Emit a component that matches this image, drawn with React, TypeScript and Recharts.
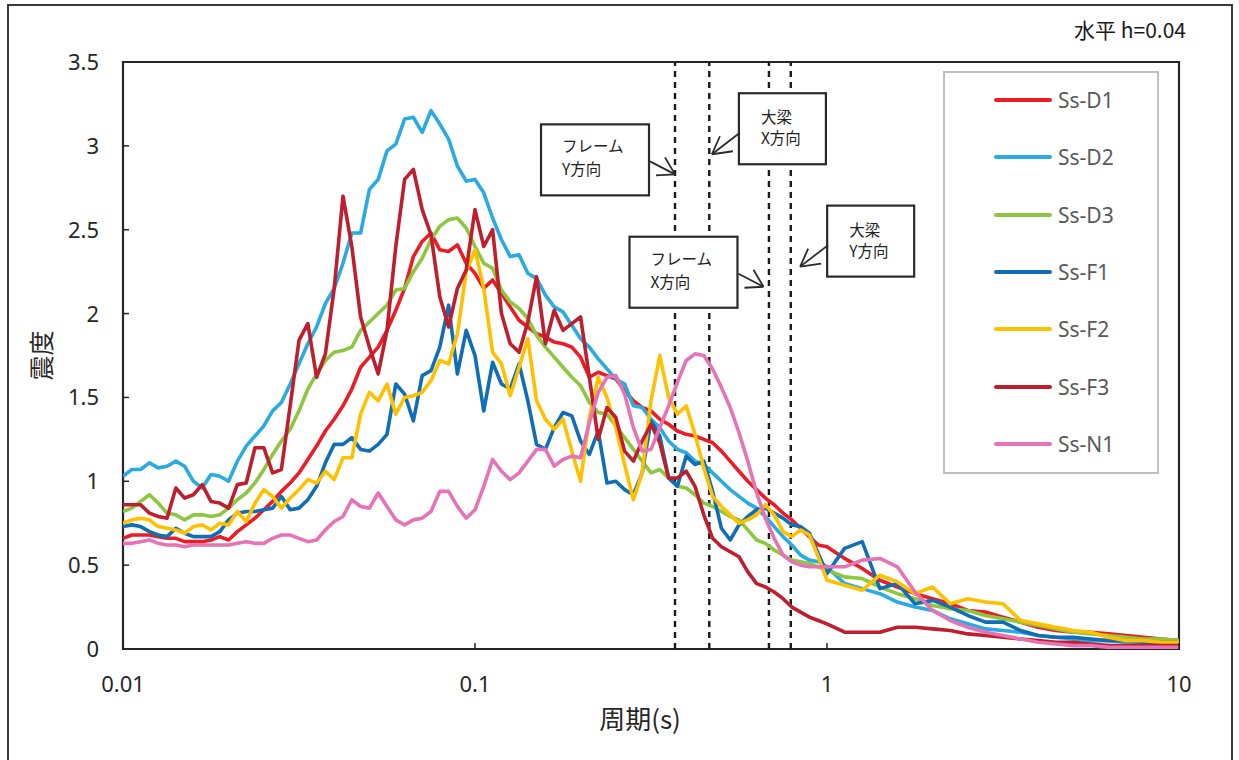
import React from 'react';
import {
  LineChart,
  Line,
  XAxis,
  YAxis,
  ReferenceLine,
  ReferenceArea,
  ReferenceDot,
  Legend,
  Label,
} from 'recharts';

// ---- data -------------------------------------------------------------
const periods = [
  0.01, 0.01059, 0.01122, 0.01189, 0.01259, 0.01334, 0.01413, 0.01496, 0.01585, 0.01679,
  0.01778, 0.01884, 0.01995, 0.02113, 0.02239, 0.02371, 0.02512, 0.02661, 0.02818, 0.02985,
  0.03162, 0.0335, 0.03548, 0.03758, 0.03981, 0.04217, 0.04467, 0.04732, 0.05012, 0.05309,
  0.05623, 0.05957, 0.0631, 0.06683, 0.07079, 0.07499, 0.07943, 0.08414, 0.08913, 0.09441,
  0.1, 0.1059, 0.1122, 0.1189, 0.1259, 0.1334, 0.1413, 0.1496, 0.1585, 0.1679,
  0.1778, 0.1884, 0.1995, 0.2113, 0.2239, 0.2371, 0.2512, 0.2661, 0.2818, 0.2985,
  0.3162, 0.335, 0.3548, 0.3758, 0.3981, 0.4217, 0.4467, 0.4732, 0.5012, 0.5309,
  0.5623, 0.5957, 0.631, 0.6683, 0.7079, 0.7499, 0.7943, 0.8414, 0.8913, 0.9441,
  1.0, 1.122, 1.259, 1.413, 1.585, 1.778, 1.995, 2.239, 2.512, 2.818,
  3.162, 3.548, 3.981, 4.467, 5.012, 5.623, 6.31, 7.079, 7.943, 8.913,
  10.0,
];

const ssD1 = [
  0.66, 0.68, 0.68, 0.68, 0.67, 0.66, 0.66, 0.64, 0.64, 0.64,
  0.65, 0.67, 0.65, 0.70, 0.74, 0.78, 0.83, 0.88, 0.94, 0.99,
  1.05, 1.13, 1.21, 1.30, 1.37, 1.45, 1.55, 1.68, 1.74, 1.80,
  1.90, 2.02, 2.15, 2.34, 2.43, 2.48, 2.38, 2.37, 2.41, 2.30,
  2.24, 2.15, 2.20, 2.12, 2.04, 1.96, 1.92, 1.88, 1.86, 1.83,
  1.82, 1.80, 1.74, 1.62, 1.65, 1.63, 1.61, 1.54, 1.48, 1.44,
  1.42, 1.37, 1.34, 1.30, 1.28, 1.27, 1.25, 1.23, 1.18, 1.12,
  1.06, 1.00, 0.95, 0.90, 0.86, 0.81, 0.77, 0.72, 0.67, 0.62,
  0.61, 0.54, 0.48, 0.41, 0.37, 0.33, 0.30, 0.27, 0.23, 0.22,
  0.19, 0.16, 0.13, 0.11, 0.10, 0.10, 0.09, 0.08, 0.07, 0.06,
  0.05,
];

const ssD2 = [
  1.03, 1.07, 1.07, 1.11, 1.08, 1.09, 1.12, 1.09, 1.00, 0.96,
  1.04, 1.03, 1.00, 1.12, 1.21, 1.27, 1.33, 1.42, 1.47, 1.58,
  1.70, 1.82, 1.92, 2.06, 2.15, 2.30, 2.48, 2.48, 2.74, 2.80,
  2.97, 3.01, 3.16, 3.17, 3.08, 3.21, 3.13, 3.04, 2.88, 2.79,
  2.80, 2.72, 2.57, 2.44, 2.34, 2.35, 2.24, 2.21, 2.11, 2.04,
  2.01, 1.93, 1.85, 1.80, 1.73, 1.67, 1.61, 1.58, 1.45, 1.44,
  1.37, 1.32, 1.24, 1.19, 1.17, 1.12, 1.10, 1.05, 1.00, 0.95,
  0.91, 0.87, 0.84, 0.79, 0.73, 0.67, 0.62, 0.56, 0.53, 0.52,
  0.49, 0.39, 0.36, 0.33, 0.28, 0.25, 0.23, 0.18, 0.15, 0.12,
  0.11, 0.10, 0.08, 0.07, 0.06, 0.05, 0.05, 0.04, 0.04, 0.03,
  0.03,
];

const ssD3 = [
  0.82, 0.84, 0.88, 0.92, 0.87, 0.81, 0.80, 0.77, 0.80, 0.80,
  0.79, 0.80, 0.84, 0.89, 0.93, 0.99, 1.07, 1.16, 1.24, 1.31,
  1.42, 1.55, 1.64, 1.72, 1.77, 1.78, 1.80, 1.90, 1.95, 2.00,
  2.05, 2.14, 2.15, 2.25, 2.33, 2.44, 2.52, 2.56, 2.57, 2.51,
  2.40, 2.30, 2.27, 2.14, 2.07, 2.03, 1.97, 1.87, 1.80, 1.74,
  1.68, 1.62, 1.57, 1.47, 1.41, 1.40, 1.33, 1.26, 1.19, 1.12,
  1.05, 1.07, 1.02, 0.97, 0.96, 0.92, 0.87, 0.85, 0.82, 0.79,
  0.77, 0.71, 0.65, 0.63, 0.59, 0.56, 0.53, 0.52, 0.51, 0.49,
  0.47, 0.43, 0.42, 0.37, 0.33, 0.30, 0.26, 0.24, 0.23, 0.20,
  0.18, 0.16, 0.14, 0.12, 0.10, 0.09, 0.08, 0.07, 0.06, 0.06,
  0.05,
];

const ssF1 = [
  0.73, 0.74, 0.73, 0.70, 0.68, 0.67, 0.72, 0.69, 0.67, 0.67,
  0.67, 0.70, 0.77, 0.81, 0.82, 0.82, 0.83, 0.84, 0.91, 0.83,
  0.84, 0.89, 0.97, 1.11, 1.22, 1.22, 1.26, 1.19, 1.18, 1.22,
  1.28, 1.58, 1.52, 1.36, 1.63, 1.66, 1.80, 2.05, 1.64, 1.90,
  1.75, 1.42, 1.71, 1.58, 1.55, 1.70, 1.48, 1.22, 1.19, 1.32,
  1.41, 1.39, 1.24, 1.16, 1.30, 0.99, 1.00, 0.95, 0.92, 1.05,
  1.36, 1.27, 1.02, 0.97, 1.15, 1.10, 1.12, 0.94, 0.72, 0.65,
  0.74, 0.79, 0.83, 0.84, 0.81, 0.78, 0.74, 0.73, 0.69, 0.57,
  0.45, 0.60, 0.64, 0.36, 0.39, 0.27, 0.29, 0.25, 0.20, 0.16,
  0.16, 0.11, 0.08, 0.07, 0.07, 0.06, 0.05, 0.05, 0.04, 0.04,
  0.04,
];

const ssF2 = [
  0.75, 0.77, 0.78, 0.77, 0.73, 0.72, 0.71, 0.69, 0.73, 0.74,
  0.71, 0.75, 0.74, 0.82, 0.76, 0.87, 0.95, 0.91, 0.84, 0.90,
  0.95, 1.01, 0.99, 1.06, 1.01, 1.14, 1.14, 1.40, 1.53, 1.48,
  1.58, 1.40, 1.50, 1.51, 1.53, 1.60, 1.72, 1.70, 1.88, 2.25,
  2.38, 2.15, 1.77, 1.70, 1.51, 1.68, 1.85, 1.48, 1.37, 1.31,
  1.37, 1.18, 1.00, 1.38, 1.62, 1.50, 1.32, 1.10, 0.89, 1.05,
  1.48, 1.75, 1.50, 1.40, 1.45, 1.28, 1.08, 0.91, 0.85, 0.80,
  0.75, 0.77, 0.80, 0.86, 0.80, 0.70, 0.67, 0.71, 0.68, 0.55,
  0.41, 0.38, 0.35, 0.44, 0.40, 0.33, 0.37, 0.27, 0.30, 0.28,
  0.27, 0.17, 0.15, 0.13, 0.11, 0.10, 0.07, 0.05, 0.05, 0.04,
  0.04,
];

const ssF3 = [
  0.86, 0.86, 0.86, 0.81, 0.79, 0.78, 0.96, 0.90, 0.92, 0.98,
  0.88, 0.87, 0.84, 0.98, 0.99, 1.20, 1.20, 1.05, 1.07, 1.45,
  1.84, 1.94, 1.62, 1.76, 2.15, 2.70, 2.40, 1.98, 1.80, 1.64,
  1.90, 2.40, 2.80, 2.86, 2.62, 2.47, 2.10, 1.92, 2.15, 2.26,
  2.62, 2.40, 2.50, 2.00, 1.82, 1.77, 1.95, 2.22, 1.82, 2.02,
  1.90, 1.94, 1.98, 1.62, 1.25, 1.44, 1.38, 1.18, 1.12, 1.24,
  1.34, 1.23, 1.02, 1.02, 1.06, 0.97, 0.80, 0.66, 0.61, 0.58,
  0.55, 0.46, 0.39, 0.37, 0.34, 0.30, 0.25, 0.22, 0.19, 0.17,
  0.15, 0.10, 0.10, 0.10, 0.13, 0.13, 0.12, 0.11, 0.09, 0.08,
  0.07, 0.06, 0.05, 0.04, 0.04, 0.03, 0.02, 0.02, 0.02, 0.02,
  0.02,
];

const ssN1 = [
  0.63, 0.63, 0.64, 0.65, 0.63, 0.62, 0.62, 0.61, 0.62, 0.62,
  0.62, 0.62, 0.62, 0.63, 0.64, 0.63, 0.63, 0.66, 0.68, 0.68,
  0.66, 0.64, 0.65, 0.71, 0.76, 0.79, 0.89, 0.85, 0.84, 0.93,
  0.85, 0.77, 0.74, 0.77, 0.78, 0.82, 0.94, 0.94, 0.85, 0.78,
  0.83, 0.97, 1.13, 1.06, 1.01, 1.05, 1.12, 1.19, 1.19, 1.09,
  1.13, 1.15, 1.14, 1.35, 1.53, 1.62, 1.63, 1.52, 1.32, 1.18,
  1.19, 1.32, 1.45, 1.59, 1.72, 1.76, 1.75, 1.67, 1.56, 1.44,
  1.29, 1.12, 0.93, 0.78, 0.66, 0.56, 0.52, 0.50, 0.49, 0.49,
  0.49, 0.49, 0.53, 0.54, 0.49, 0.34, 0.23, 0.17, 0.13, 0.10,
  0.08, 0.06, 0.04, 0.03, 0.02, 0.02, 0.01, 0.01, 0.01, 0.01,
  0.01,
];

const seriesNames = ['Ss-D1', 'Ss-D2', 'Ss-D3', 'Ss-F1', 'Ss-F2', 'Ss-F3', 'Ss-N1'];
const seriesColors = ['#ED1C24', '#29ABE2', '#8DC63F', '#0F6EB5', '#FFC000', '#BE1E2D', '#E573B5'];
const seriesValues = [ssD1, ssD2, ssD3, ssF1, ssF2, ssF3, ssN1];

const xTicks = [0.01, 0.1, 1, 10];
const yTicks = [0, 0.5, 1, 1.5, 2, 2.5, 3, 3.5];

// periods of the dashed marker lines
const markerPeriods = [0.37, 0.463, 0.684, 0.789];

// callouts: arrow tip in data coordinates
const calloutLines1 = ['フレーム', '大梁', 'フレーム', '大梁'];
const calloutLines2 = ['Y方向', 'X方向', 'X方向', 'Y方向'];
const calloutTipX = [0.37, 0.471, 0.66, 0.839];
const calloutTipY = [2.83, 2.95, 2.16, 2.28];
const calloutSide = ['left', 'right', 'left', 'right'];

const chartData = periods.map((p, i) => {
  const row: Record<string, number> = { period: p };
  seriesNames.forEach((n, j) => {
    row[n] = seriesValues[j][i];
  });
  return row;
});

const FONT = "'Noto Sans', 'Noto Sans CJK JP', sans-serif";
const CJK = "'Noto Sans CJK JP', 'Noto Sans', sans-serif";
const TICK_GAP = 24;

const XTick = (props: any) => {
  const { x, y, payload } = props;
  const axisY = y - TICK_GAP;
  return (
    <g>
      <line x1={x} x2={x} y1={axisY} y2={axisY - 6} stroke="#262626" strokeWidth={1.5} />
      <text x={x} y={y + 19} textAnchor="middle" fontSize={22} fill="#262626" fontFamily={FONT}>
        {String(payload.value)}
      </text>
    </g>
  );
};

const YTick = (props: any) => {
  const { x, y, payload } = props;
  const axisX = x + TICK_GAP;
  return (
    <g>
      <line x1={axisX} x2={axisX + 6} y1={y} y2={y} stroke="#262626" strokeWidth={1.5} />
      <text x={x} y={y + 8} textAnchor="end" fontSize={22} fill="#262626" fontFamily={FONT}>
        {String(payload.value)}
      </text>
    </g>
  );
};

const makeCallout = (i: number) => (props: any) => {
  const { cx, cy } = props;
  if (cx == null || cy == null) return <g />;
  const left = calloutSide[i] === 'left';
  const box = left
    ? { x: cx - 134, y: cy - 50, w: 108, h: 71 }
    : { x: cx + 27, y: cy - 61, w: 87, h: 71 };
  const tail = left ? [cx - 25, cy - 13] : [cx + 28, cy - 21.5];
  const h1 = left ? [cx - 10, cy - 17] : [cx + 8, cy - 18];
  const h2 = left ? [cx - 19, cy + 1] : [cx + 21, cy - 3];
  const tx = left ? cx - 113 : cx + 49;
  const ty1 = left ? cy - 29 : cy - 38;
  const ty2 = left ? cy - 6 : cy - 17;
  return (
    <g>
      <rect x={box.x} y={box.y} width={box.w} height={box.h} fill="#fff" stroke="#2a2a2a" strokeWidth={2.2} />
      <line x1={tail[0]} y1={tail[1]} x2={cx} y2={cy} stroke="#2a2a2a" strokeWidth={1.8} />
      <line x1={h1[0]} y1={h1[1]} x2={cx} y2={cy} stroke="#2a2a2a" strokeWidth={1.8} />
      <line x1={h2[0]} y1={h2[1]} x2={cx} y2={cy} stroke="#2a2a2a" strokeWidth={1.8} />
      <text x={tx} y={ty1} dominantBaseline="central" fontSize={15.5} fill="#222" fontFamily={CJK}>
        {calloutLines1[i]}
      </text>
      <text x={tx} y={ty2} dominantBaseline="central" fontSize={15.5} fill="#222" fontFamily={CJK}>
        {calloutLines2[i]}
      </text>
    </g>
  );
};

const renderLegend = (props: any) => {
  const payload = props.payload || [];
  return (
    <div
      style={{
        width: 216,
        height: 403,
        border: '2px solid #BFBFBF',
        boxSizing: 'border-box',
        background: '#fff',
        position: 'relative',
      }}
    >
      {payload.map((e: any, i: number) => (
        <div
          key={i}
          style={{
            position: 'absolute',
            left: 49,
            top: 26.7 + i * 57.4 - 14,
            height: 28,
            display: 'flex',
            alignItems: 'center',
            whiteSpace: 'nowrap',
          }}
        >
          <div style={{ width: 58, height: 4, background: e.color, borderRadius: 2 }} />
          <span style={{ marginLeft: 6, fontSize: 21, color: '#595959', fontFamily: FONT }}>{e.value}</span>
        </div>
      ))}
    </div>
  );
};

const YLabel = (props: any) => {
  const vb = props.viewBox || {};
  const x = vb.x - 23;
  const y = vb.y + vb.height / 2;
  return (
    <text
      x={x}
      y={y}
      transform={`rotate(-90, ${x}, ${y})`}
      textAnchor="middle"
      dominantBaseline="central"
      fontSize={25}
      fill="#262626"
      fontFamily={CJK}
    >
      震度
    </text>
  );
};

const XLabel = (props: any) => {
  const vb = props.viewBox || {};
  const x = vb.x + vb.width / 2 - 11;
  const y = vb.y + 68;
  return (
    <text x={x} y={y} textAnchor="middle" dominantBaseline="central" fontSize={26} fill="#262626" fontFamily={CJK}>
      周期(s)
    </text>
  );
};

export default function App() {
  return (
    <div
      style={{
        position: 'absolute',
        left: 0,
        top: 0,
        width: 1239,
        height: 760,
        background: '#fff',
        overflow: 'hidden',
        fontFamily: FONT,
      }}
    >
      <div
        style={{
          position: 'absolute',
          left: 7,
          top: 4,
          width: 1226,
          height: 800,
          border: '2px solid #3a3a3a',
          boxSizing: 'border-box',
        }}
      />
      <div
        style={{
          position: 'absolute',
          right: 53,
          top: 17,
          fontSize: 21,
          lineHeight: '24px',
          color: '#1a1a1a',
          fontFamily: CJK,
          whiteSpace: 'nowrap',
        }}
      >
        水平 h=0.04
      </div>
      <div style={{ position: 'absolute', left: 0, top: 0 }}>
        <LineChart
          width={1239}
          height={760}
          data={chartData}
          margin={{ top: 62, right: 60, bottom: 81, left: 63 }}
        >
          <XAxis
            dataKey="period"
            type="number"
            scale="log"
            domain={[0.01, 10]}
            ticks={xTicks}
            allowDataOverflow
            axisLine={false}
            tickLine={false}
            tickSize={0}
            tickMargin={TICK_GAP}
            tick={<XTick />}
            height={30}
            interval={0}
          >
            <Label content={<XLabel />} />
          </XAxis>
          <YAxis
            type="number"
            domain={[0, 3.5]}
            ticks={yTicks}
            allowDataOverflow
            axisLine={false}
            tickLine={false}
            tickSize={0}
            tickMargin={TICK_GAP}
            tick={<YTick />}
            width={60}
            interval={0}
          >
            <Label content={<YLabel />} />
          </YAxis>
          {markerPeriods.map((p) => (
            <ReferenceLine
              key={p}
              x={p}
              stroke="#1a1a1a"
              strokeWidth={2.4}
              strokeDasharray="6 5"
            />
          ))}
          {seriesNames.map((n, j) => (
            <Line
              key={n}
              type="linear"
              dataKey={n}
              name={n}
              stroke={seriesColors[j]}
              strokeWidth={3.6}
              dot={false}
              activeDot={false}
              isAnimationActive={false}
              strokeLinejoin="round"
            />
          ))}
          <ReferenceArea
            x1={0.01}
            x2={10}
            y1={0}
            y2={3.5}
            fill="none"
            fillOpacity={0}
            stroke="#262626"
            strokeWidth={2.2}
            ifOverflow="visible"
          />
          {calloutTipX.map((tx, i) => (
            <ReferenceDot
              key={i}
              x={tx}
              y={calloutTipY[i]}
              r={0}
              ifOverflow="visible"
              shape={makeCallout(i)}
            />
          ))}
          <Legend
            layout="horizontal"
            verticalAlign="middle"
            align="center"
            width={216}
            height={403}
            wrapperStyle={{ left: 943, top: 71, width: 216, height: 403 }}
            content={renderLegend}
          />
        </LineChart>
      </div>
    </div>
  );
}
